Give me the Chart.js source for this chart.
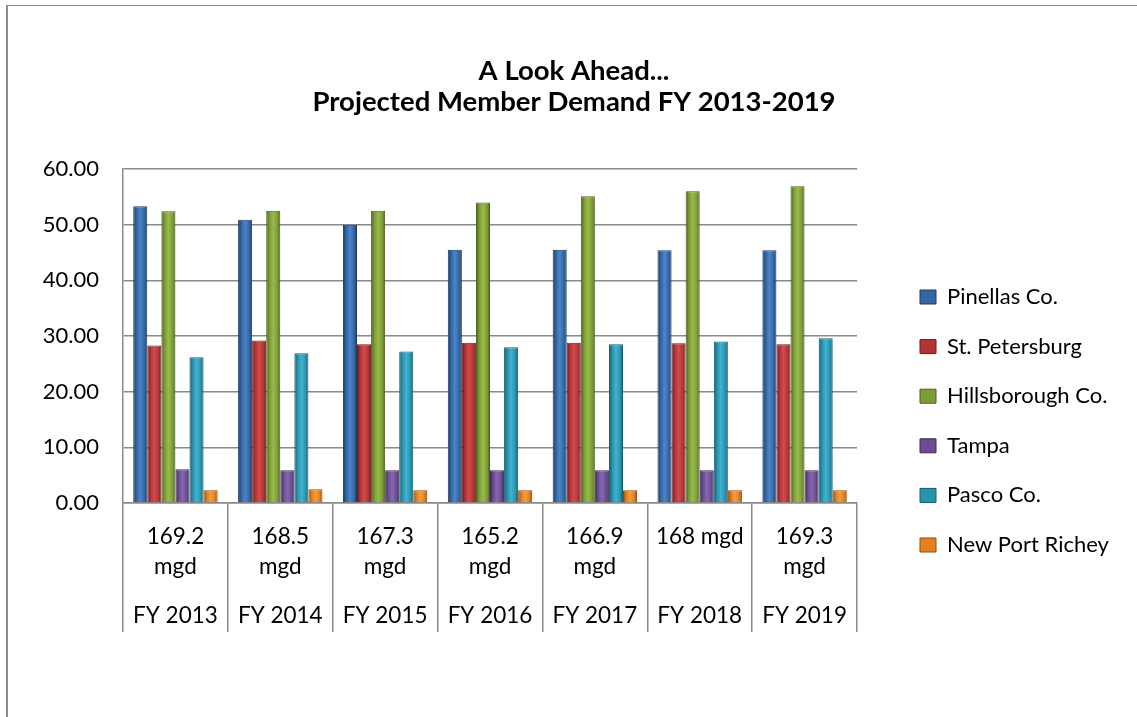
<!DOCTYPE html>
<html>
<head>
<meta charset="utf-8">
<script src="https://cdn.jsdelivr.net/npm/chart.js@4/dist/chart.umd.min.js"></script>
<style>
  html, body { margin: 0; padding: 0; background: #ffffff; overflow: hidden; }
  #frame { position: absolute; left: 6px; top: 5px; width: 1300px; height: 900px;
           border-left: 2px solid #8c8c8c; border-top: 1px solid #8c8c8c; }
  #c { position: absolute; left: 0; top: 0; }
</style>
</head>
<body>
<div id="frame"></div>
<canvas id="c" width="1137" height="717"></canvas>
<script>
// ---- data ----
const categories = ['FY 2013', 'FY 2014', 'FY 2015', 'FY 2016', 'FY 2017', 'FY 2018', 'FY 2019'];
const totalLabels = [['169.2', 'mgd'], ['168.5', 'mgd'], ['167.3', 'mgd'], ['165.2', 'mgd'], ['166.9', 'mgd'], '168 mgd', ['169.3', 'mgd']];
const seriesNames = ['Pinellas Co.', 'St. Petersburg', 'Hillsborough Co.', 'Tampa', 'Pasco Co.', 'New Port Richey'];
const pinellas = [53.3, 50.9, 50.0, 45.5, 45.5, 45.4, 45.4];
const stPetersburg = [28.3, 29.2, 28.5, 28.8, 28.8, 28.7, 28.5];
const hillsborough = [52.4, 52.5, 52.5, 54.0, 55.1, 56.0, 56.9];
const tampa = [6.05, 5.9, 5.9, 5.9, 5.9, 5.9, 5.9];
const pasco = [26.2, 26.9, 27.2, 28.0, 28.5, 29.0, 29.6];
const newPortRichey = [2.3, 2.45, 2.3, 2.3, 2.3, 2.3, 2.3];
const yTicks = [0, 10, 20, 30, 40, 50, 60];

// ---- styles ----
const palette = [
  { base: '#3466a3', dark: '#1c3b63', light: '#4d84c8' },
  { base: '#b53537', dark: '#6d1b1c', light: '#d04c4d' },
  { base: '#7d9d36', dark: '#4a5e1d', light: '#99ba4c' },
  { base: '#6c4e94', dark: '#3d2a57', light: '#8667ae' },
  { base: '#2a94b0', dark: '#165a6c', light: '#42b2cf' },
  { base: '#e3801f', dark: '#8f4b0e', light: '#f69d3c' }
];
const FONT = 'Lato';
const GRID = '#8a8a8a';

const seriesValues = [pinellas, stPetersburg, hillsborough, tampa, pasco, newPortRichey];

// legend / layout geometry helpers (layout only)
const legendFontSize = 22;
const legendPad = 27.6;
const legendBoxW = 16;
const mctx = document.createElement('canvas').getContext('2d');
mctx.font = 'normal ' + legendFontSize + 'px ' + FONT;
let maxTextW = 0;
seriesNames.forEach(n => { maxTextW = Math.max(maxTextW, mctx.measureText(n).width); });
const legendNaturalW = legendPad + legendBoxW + legendFontSize / 2 + maxTextW + 10;
const legendLeft = 920 - legendPad;
const padRight = Math.max(0, 1137 - legendLeft - legendNaturalW);
const gapW = (1137 - padRight - legendNaturalW) - 857;
const padLeft = Math.max(0, 2 * 574 - 1137 + padRight);   // centres the title near x=574
const yAxisW = 123 - padLeft;

const bevel = {
  id: 'bevel',
  beforeDatasetsDraw(chart) {
    const ctx = chart.ctx;
    chart.data.datasets.forEach((ds, i) => {
      const p = palette[i];
      chart.getDatasetMeta(i).data.forEach(el => {
        const l = el.x - el.width / 2, r = el.x + el.width / 2;
        const g = ctx.createLinearGradient(l, 0, r, 0);
        g.addColorStop(0, p.dark);
        g.addColorStop(0.25, p.base);
        g.addColorStop(0.5, p.light);
        g.addColorStop(0.8, p.base);
        g.addColorStop(1, p.dark);
        el.options.backgroundColor = g;
      });
    });
  }
};

const datasets = seriesNames.map((name, i) => ({
  label: name,
  data: seriesValues[i],
  xAxisID: 'x',
  yAxisID: 'y',
  backgroundColor: () => palette[i].base,
  borderColor: palette[i].dark,
  borderWidth: 1,
  categoryPercentage: 0.805,
  barPercentage: 1.0
}));

new Chart(document.getElementById('c'), {
  type: 'bar',
  data: { labels: categories, datasets },
  plugins: [bevel],
  options: {
    responsive: false,
    animation: false,
    devicePixelRatio: 1,
    layout: { padding: { left: padLeft, top: 0, right: padRight, bottom: 0 } },
    plugins: {
      tooltip: { enabled: false },
      title: {
        display: true,
        fullSize: true,
        text: ['A Look Ahead...', 'Projected Member Demand FY 2013-2019'],
        color: '#000000',
        font: { family: FONT, size: 27.5, weight: 'bold', lineHeight: 31 / 27.5 },
        padding: { top: 56, bottom: 51 }
      },
      legend: {
        display: true,
        position: 'right',
        align: 'center',
        fullSize: true,
        title: { display: true, text: ' ', font: { family: FONT, size: 21, lineHeight: 1.2 }, padding: { top: 125 - 25.2, bottom: 0 } },
        labels: {
          color: '#000000',
          font: { family: FONT, size: legendFontSize, lineHeight: 1.2 },
          boxWidth: legendBoxW,
          boxHeight: 14,
          padding: legendPad
        }
      }
    },
    scales: {
      x: {
        type: 'category',
        position: 'bottom',
        labels: totalLabels,
        offset: true,
        weight: 0,
        grid: { display: true, offset: true, drawOnChartArea: false, drawTicks: true, tickLength: 129, color: GRID, lineWidth: 1.5 },
        border: { display: true, color: GRID, width: 1.5 },
        ticks: { autoSkip: false, maxRotation: 0, minRotation: 0, padding: -110, color: '#000000',
                 font: { family: FONT, size: 22.5, lineHeight: 30 / 22.5 } },
        afterFit: s => { s.height = 95; }
      },
      x2: {
        type: 'category',
        axis: 'x',
        position: 'bottom',
        labels: categories,
        offset: true,
        weight: 1,
        grid: { display: false, drawOnChartArea: false, drawTicks: false, tickLength: 0 },
        border: { display: false },
        ticks: { autoSkip: false, maxRotation: 0, minRotation: 0, padding: 5.4, color: '#000000',
                 font: { family: FONT, size: 22.5, lineHeight: 1.12 } },
        afterFit: s => { s.height = 119; }
      },
      y: {
        type: 'linear',
        position: 'left',
        min: yTicks[0],
        max: yTicks[yTicks.length - 1],
        afterBuildTicks: s => { s.ticks = yTicks.map(v => ({ value: v })); },
        grid: { color: GRID, lineWidth: 1.5, drawTicks: false },
        border: { display: true, color: GRID, width: 1.5 },
        ticks: { padding: 24, color: '#000000', font: { family: FONT, size: 22 },
                 callback: v => Number(v).toFixed(2) },
        afterFit: s => { s.width = yAxisW; }
      },
      gap: {
        type: 'linear',
        axis: 'y',
        position: 'right',
        display: false,
        afterFit: s => { s.width = gapW; }
      }
    }
  }
});
</script>
</body>
</html>
